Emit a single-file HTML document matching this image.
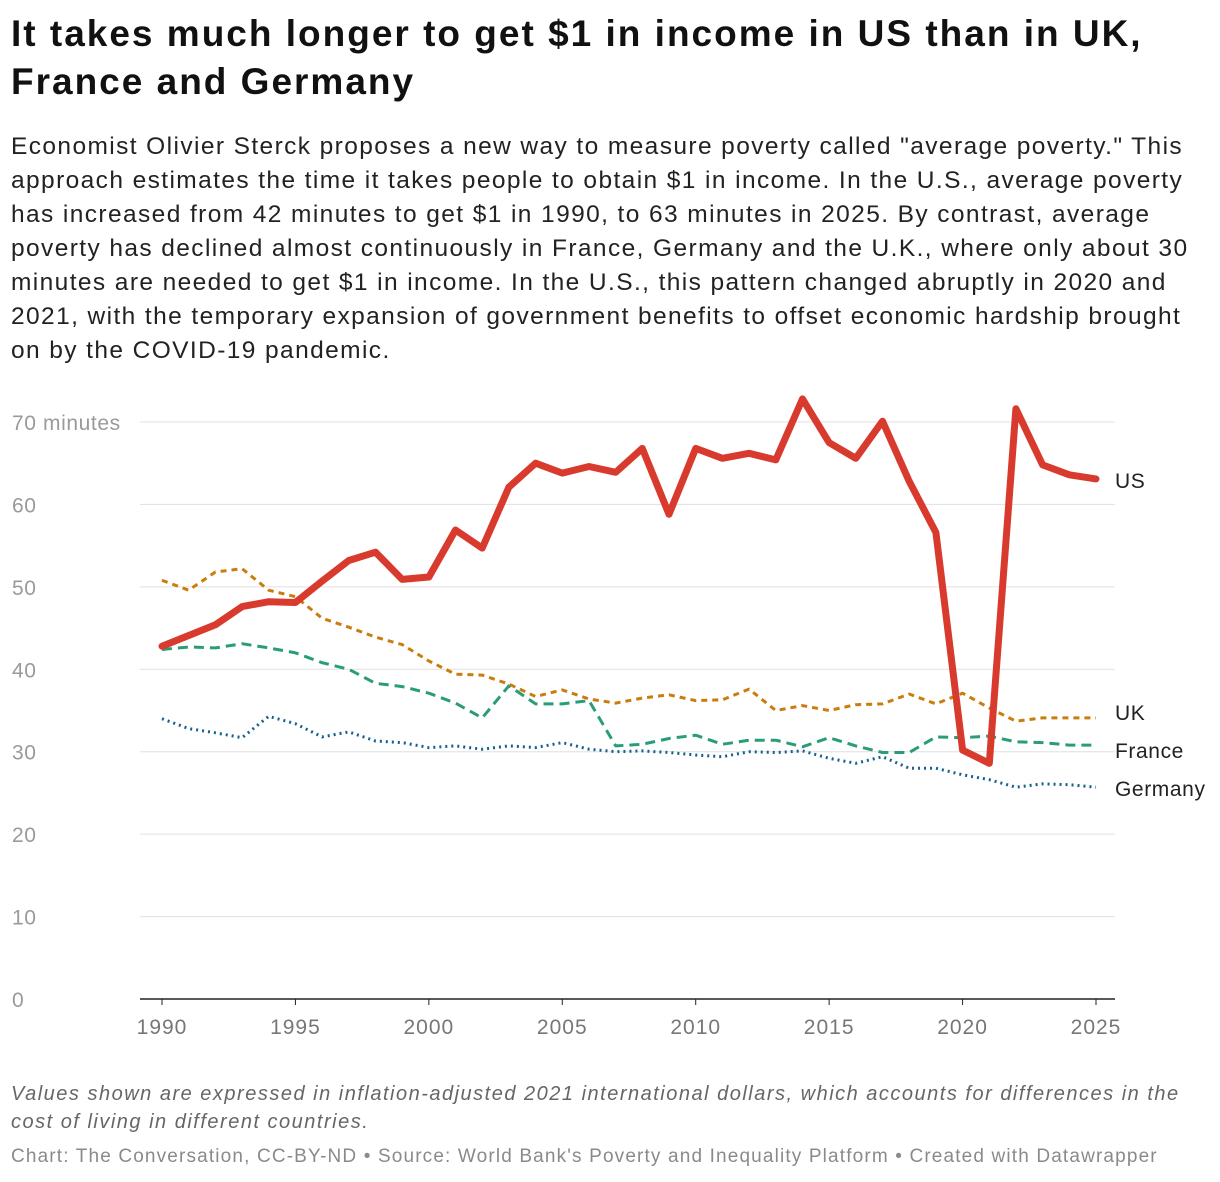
<!DOCTYPE html>
<html><head><meta charset="utf-8"><style>
body{margin:0;background:#fff;font-family:"Liberation Sans",sans-serif;width:1220px;height:1182px;overflow:hidden;position:relative}
h1{position:absolute;left:11px;top:10px;margin:0;font-size:37px;line-height:48px;font-weight:bold;color:#111;letter-spacing:2px;width:1210px;white-space:nowrap}
.desc{position:absolute;left:11px;top:130px;font-size:24.5px;line-height:34px;color:#222;width:1210px;white-space:nowrap;letter-spacing:1.4px}
.note{position:absolute;left:11px;top:1080px;font-size:20px;line-height:28px;font-style:italic;color:#666;width:1210px;white-space:nowrap;letter-spacing:1.5px}
.credit{position:absolute;left:11px;top:1146px;font-size:19px;color:#8a8a8a;white-space:nowrap;letter-spacing:1.15px}
svg{position:absolute;left:0;top:0}
</style></head><body>
<h1>It takes much longer to get $1 in income in US than in UK,<br>France and Germany</h1>
<div class="desc">Economist Olivier Sterck proposes a new way to measure poverty called "average poverty." This<br>approach estimates the time it takes people to obtain $1 in income. In the U.S., average poverty<br>has increased from 42 minutes to get $1 in 1990, to 63 minutes in 2025. By contrast, average<br>poverty has declined almost continuously in France, Germany and the U.K., where only about 30<br>minutes are needed to get $1 in income. In the U.S., this pattern changed abruptly in 2020 and<br>2021, with the temporary expansion of government benefits to offset economic hardship brought<br>on by the COVID-19 pandemic.</div>
<svg id="chart" width="1220" height="1182"></svg>
<div class="note">Values shown are expressed in inflation-adjusted 2021 international dollars, which accounts for differences in the<br>cost of living in different countries.</div>
<div class="credit">Chart: The Conversation, CC-BY-ND • Source: World Bank's Poverty and Inequality Platform • Created with Datawrapper</div>
<script>
const years=[1990,1991,1992,1993,1994,1995,1996,1997,1998,1999,2000,2001,2002,2003,2004,2005,2006,2007,2008,2009,2010,2011,2012,2013,2014,2015,2016,2017,2018,2019,2020,2021,2022,2023,2024,2025];
const usValues=[42.8,44.1,45.4,47.6,48.2,48.1,50.7,53.2,54.2,50.9,51.2,56.9,54.7,62.1,65.0,63.8,64.6,63.9,66.8,58.8,66.8,65.6,66.2,65.4,72.8,67.5,65.6,70.1,62.8,56.6,30.2,28.6,71.6,64.8,63.6,63.1];
const ukValues=[50.8,49.6,51.8,52.2,49.6,48.8,46.2,45.1,43.9,43.0,41.0,39.4,39.3,38.2,36.7,37.5,36.4,35.9,36.5,36.9,36.2,36.3,37.6,35.0,35.6,35.0,35.7,35.8,37.0,35.8,37.1,35.3,33.7,34.1,34.1,34.1];
const franceValues=[42.4,42.7,42.6,43.1,42.6,42.0,40.8,40.0,38.3,37.9,37.1,35.9,34.1,38.0,35.8,35.8,36.2,30.7,30.9,31.6,32.0,30.9,31.4,31.4,30.6,31.7,30.7,29.9,29.9,31.8,31.7,31.9,31.2,31.1,30.8,30.8];
const germanyValues=[34.0,32.8,32.3,31.7,34.3,33.4,31.8,32.4,31.3,31.1,30.5,30.7,30.3,30.7,30.5,31.1,30.3,30.0,30.1,29.9,29.6,29.4,30.0,29.9,30.1,29.2,28.6,29.4,28.0,28.0,27.2,26.6,25.7,26.1,26.0,25.7];
const yTicks=[0,10,20,30,40,50,60,70];
const xTicks=[1990,1995,2000,2005,2010,2015,2020,2025];
const NS="http://www.w3.org/2000/svg";
const svg=document.getElementById('chart');
const X=y=>162+(y-1990)*(1096-162)/35;
const Y=v=>999-v*(999-422)/70;
function mk(t,a,txt){const e=document.createElementNS(NS,t);for(const k in a)e.setAttribute(k,a[k]);if(txt!==undefined)e.textContent=txt;svg.appendChild(e);return e;}
yTicks.forEach(v=>{
  const l=mk('line',{x1:140,x2:1115,y1:Y(v),y2:Y(v),stroke:v===0?'#222':'#e0e0e0','stroke-width':v===0?1.5:1});
  
  
  const t=mk('text',{x:12,y:Y(v)+8,'font-size':21,fill:'#9a9a9a','font-family':'Liberation Sans','letter-spacing':0.6},v===70?'70 minutes':String(v));
  
  
});
xTicks.forEach(yr=>{
  const l=mk('line',{x1:X(yr),x2:X(yr),y1:999,y2:1005,stroke:'#222','stroke-width':1});
  
  
  const t=mk('text',{x:X(yr),y:1034,'font-size':21,fill:'#777','text-anchor':'middle','font-family':'Liberation Sans','letter-spacing':1},String(yr));
  
  
});
function series(vals,color,w,dash,name,label,ly){
  const d=vals.map((v,i)=>(i?'L':'M')+X(years[i]).toFixed(1)+','+Y(v).toFixed(1)).join('');
  const p=mk('path',{d:d,fill:'none',stroke:color,'stroke-width':w,'stroke-dasharray':dash,'stroke-linejoin':'round','stroke-linecap':dash==='none'?'round':'butt'});
  
  
  const t=mk('text',{x:1115,y:ly,'font-size':21,fill:'#222','font-family':'Liberation Sans','letter-spacing':0.6},label);
  
  
}
series(germanyValues,'#15608c',3,'2,4','germany','Germany',796);
series(franceValues,'#2a9d78',3,'10,6','france','France',758);
series(ukValues,'#c97d0d',3,'6,5','uk','UK',720);
series(usValues,'#d93a2e',7,'none','us','US',488);
</script>
</body></html>
